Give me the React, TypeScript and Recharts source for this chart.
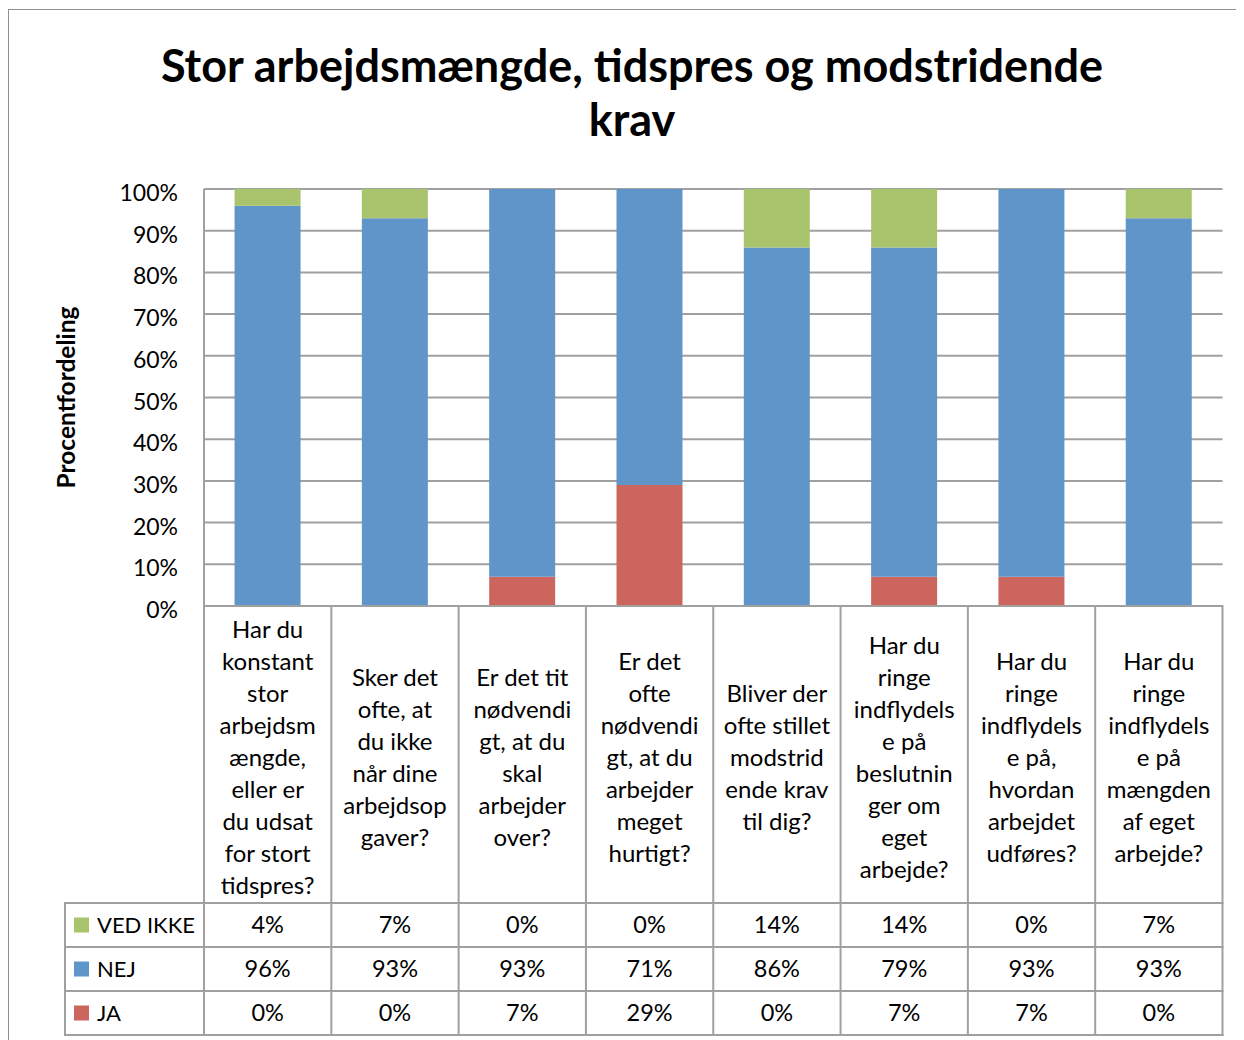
import React from 'react';
import { BarChart, Bar, XAxis, YAxis, CartesianGrid } from 'recharts';

// ---------- data ----------
const categoryLines: string[][] = [
  ['Har du', 'konstant', 'stor', 'arbejdsm', 'ængde,', 'eller er', 'du udsat', 'for stort', 'tidspres?'],
  ['Sker det', 'ofte, at', 'du ikke', 'når dine', 'arbejdsop', 'gaver?'],
  ['Er det tit', 'nødvendi', 'gt, at du', 'skal', 'arbejder', 'over?'],
  ['Er det', 'ofte', 'nødvendi', 'gt, at du', 'arbejder', 'meget', 'hurtigt?'],
  ['Bliver der', 'ofte stillet', 'modstrid', 'ende krav', 'til dig?'],
  ['Har du', 'ringe', 'indflydels', 'e på', 'beslutnin', 'ger om', 'eget', 'arbejde?'],
  ['Har du', 'ringe', 'indflydels', 'e på,', 'hvordan', 'arbejdet', 'udføres?'],
  ['Har du', 'ringe', 'indflydels', 'e på', 'mængden', 'af eget', 'arbejde?'],
];
const categories: string[] = categoryLines.map((l) => l.join(' '));
const vedIkke = [4, 7, 0, 0, 14, 14, 0, 7];
const nej = [96, 93, 93, 71, 86, 79, 93, 93];
const ja = [0, 0, 7, 29, 0, 7, 7, 0];
const yTicks = [0, 10, 20, 30, 40, 50, 60, 70, 80, 90, 100];
const titleLines = ['Stor arbejdsmængde, tidspres og modstridende', 'krav'];
const yAxisTitle = 'Procentfordeling';

// ---------- styles / layout ----------
const FONT = 'Lato, "Open Sans", sans-serif';
const GRID = '#a0a0a0';
const C_VED = '#a9c46c';
const C_NEJ = '#5f95c9';
const C_JA = '#cd655f';

const CHART_W = 1235;
const CHART_H = 1030;
const PLOT_LEFT = 195;
const PLOT_TOP = 179;
const PLOT_RIGHT = 1213.5;
const PLOT_BOTTOM = 596;
const XAXIS_H = 429;
const PLOT_W = PLOT_RIGHT - PLOT_LEFT;
const BAND = PLOT_W / categories.length;
const LEFT_COL_W = 139;
const ROW_LINES = [297, 341, 385, 429];
const ROW_CENTERS = [319, 363, 407];
const LABEL_CENTER = 152;
const LINE_H = 32;
const LABEL_SIZE = 24;
const VALUE_SIZE = 23.5;
const NAME_SIZE = 22;

const tableRows = [
  { name: 'VED IKKE', values: vedIkke, color: C_VED },
  { name: 'NEJ', values: nej, color: C_NEJ },
  { name: 'JA', values: ja, color: C_JA },
];

const data = categories.map((name, i) => ({
  name,
  ja: ja[i],
  nej: nej[i],
  vedIkke: vedIkke[i],
}));

const lineProps = { stroke: GRID, strokeWidth: 2, strokeLinecap: 'square' as const };

const CategoryTick = (props: any) => {
  const { x, y, index } = props;
  const left = x - BAND / 2;
  const right = x + BAND / 2;
  const lines = categoryLines[index] || [];
  const n = lines.length;
  const bottom = ROW_LINES[ROW_LINES.length - 1];
  return (
    <g fontFamily={FONT} fill="#000">
      {index === 0 && (
        <g>
          <line x1={left} y1={y} x2={left} y2={y + bottom} {...lineProps} />
          <line x1={left - LEFT_COL_W} y1={y + ROW_LINES[0]} x2={left - LEFT_COL_W} y2={y + bottom} {...lineProps} />
          {ROW_LINES.map((r) => (
            <line key={'l' + r} x1={left - LEFT_COL_W} y1={y + r} x2={left} y2={y + r} {...lineProps} />
          ))}
          {tableRows.map((row, i) => (
            <g key={row.name}>
              <rect x={left - 130} y={y + ROW_CENTERS[i] - 7.5} width={15} height={15} fill={row.color} />
              <text x={left - 107} y={y + ROW_CENTERS[i]} dy="0.35em" textAnchor="start" fontSize={NAME_SIZE}>
                {row.name}
              </text>
            </g>
          ))}
        </g>
      )}
      <line x1={right} y1={y} x2={right} y2={y + bottom} {...lineProps} />
      {ROW_LINES.map((r) => (
        <line key={'r' + r} x1={left} y1={y + r} x2={right} y2={y + r} {...lineProps} />
      ))}
      {lines.map((t, k) => (
        <text
          key={k}
          x={x}
          y={y + LABEL_CENTER + (k - (n - 1) / 2) * LINE_H}
          dy="0.35em"
          textAnchor="middle"
          fontSize={LABEL_SIZE}
        >
          {t}
        </text>
      ))}
      {tableRows.map((row, i) => (
        <text key={'v' + i} x={x} y={y + ROW_CENTERS[i]} dy="0.35em" textAnchor="middle" fontSize={VALUE_SIZE}>
          {row.values[index]}%
        </text>
      ))}
    </g>
  );
};

const PercentTick = (props: any) => {
  const { x, y, payload } = props;
  return (
    <text x={x} y={y} dy="0.35em" transform="translate(0,4)" textAnchor="end" fontFamily={FONT} fontSize={23} fill="#000">
      {payload.value}%
    </text>
  );
};

const YTitle = (props: any) => {
  const vb = props.viewBox || {};
  const cy = (vb.y ?? PLOT_TOP) + (vb.height ?? PLOT_BOTTOM - PLOT_TOP) / 2;
  const cx = 57;
  return (
    <text
      x={cx}
      y={cy}
      transform={`rotate(-90, ${cx}, ${cy})`}
      textAnchor="middle"
      dy="0.35em"
      fontFamily={FONT}
      fontWeight="bold"
      fontSize={24.5}
      fill="#000"
    >
      {yAxisTitle}
    </text>
  );
};

export default function App() {
  return (
    <div style={{ paddingTop: 1 }}>
      <style>{'html,body{overflow:hidden}'}</style>
      <div
        style={{
          position: 'relative',
          borderLeft: '1px solid #909090',
          borderTop: '1px solid #909090',
          width: 1240,
          height: 1040,
          background: '#fff',
        }}
      >
        <div
          style={{
            position: 'absolute',
            left: 0,
            top: 29,
            width: 1246,
            textAlign: 'center',
            fontFamily: FONT,
            fontWeight: 'bold',
            fontSize: 45,
            lineHeight: '53.5px',
            color: '#000',
          }}
        >
          {titleLines.map((t) => (
            <div key={t}>{t}</div>
          ))}
        </div>
        <BarChart
          width={CHART_W}
          height={CHART_H}
          data={data}
          margin={{ top: PLOT_TOP, right: CHART_W - PLOT_RIGHT, bottom: CHART_H - PLOT_BOTTOM - XAXIS_H, left: 0 }}
          barCategoryGap="24%"
        >
          <CartesianGrid vertical={false} stroke={GRID} strokeWidth={2} />
          <XAxis
            dataKey="name"
            height={XAXIS_H}
            interval={0}
            tickLine={false}
            tickSize={0}
            tickMargin={0}
            axisLine={{ stroke: GRID, strokeWidth: 2 }}
            tick={<CategoryTick />}
          />
          <YAxis
            type="number"
            domain={[0, 100]}
            ticks={yTicks}
            interval={0}
            width={PLOT_LEFT}
            tickLine={false}
            tickSize={0}
            tickMargin={26}
            axisLine={{ stroke: GRID, strokeWidth: 2 }}
            tick={<PercentTick />}
            label={{ content: <YTitle /> }}
          />
          <Bar dataKey="ja" name="JA" stackId="s" fill={C_JA} isAnimationActive={false} />
          <Bar dataKey="nej" name="NEJ" stackId="s" fill={C_NEJ} isAnimationActive={false} />
          <Bar dataKey="vedIkke" name="VED IKKE" stackId="s" fill={C_VED} isAnimationActive={false} />
        </BarChart>
      </div>
    </div>
  );
}
